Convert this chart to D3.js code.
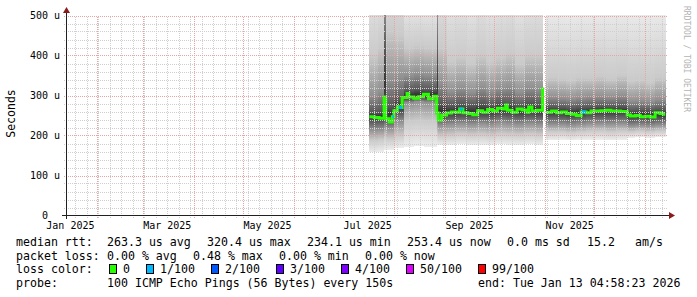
<!DOCTYPE html>
<html><head><meta charset="utf-8">
<script src="https://cdn.jsdelivr.net/npm/d3@7"></script>
<style>
html,body{margin:0;padding:0;background:#fff;}
svg{display:block;}
text{font-family:"DejaVu Sans Mono",monospace;fill:#000;}
</style></head><body>
<svg id="c" width="697" height="297"></svg>
<script>
// ---------- data ----------
const startTime = "2025-01-13 04:58";
const endTime = "2026-01-13 04:58";
const yTickValues = [0, 100, 200, 300, 400, 500];
const yTickLabels = ["0", "100 u", "200 u", "300 u", "400 u", "500 u"];
const xLabelMonths = ["2025-01-01", "2025-03-01", "2025-05-01", "2025-07-01", "2025-09-01", "2025-11-01"];
const xLabels = ["Jan 2025", "Mar 2025", "May 2025", "Jul 2025", "Sep 2025", "Nov 2025"];

// median RTT (microseconds) and loss (pings lost of 100)
const medianDates = ["2025-07-17","2025-07-20","2025-07-23","2025-07-26","2025-07-27","2025-07-29","2025-07-31","2025-08-01","2025-08-03","2025-08-04",
  "2025-08-06","2025-08-09","2025-08-10","2025-08-13","2025-08-16","2025-08-19","2025-08-22","2025-08-25","2025-08-27","2025-08-28",
  "2025-08-30","2025-09-02","2025-09-05","2025-09-08","2025-09-10","2025-09-12","2025-09-15","2025-09-18","2025-09-21","2025-09-24",
  "2025-09-27","2025-09-30","2025-10-03","2025-10-06","2025-10-08","2025-10-09","2025-10-12","2025-10-15","2025-10-18","2025-10-21",
  "2025-10-22","2025-10-24","2025-10-27","2025-10-30 12:00","2025-10-31 00:00","2025-11-01 12:00","2025-11-05","2025-11-08","2025-11-11","2025-11-14",
  "2025-11-17","2025-11-20","2025-11-23","2025-11-26","2025-11-29","2025-12-02","2025-12-05","2025-12-08","2025-12-11","2025-12-14",
  "2025-12-17","2025-12-20","2025-12-21","2025-12-23","2025-12-26","2025-12-29","2026-01-01","2026-01-04","2026-01-07","2026-01-10","2026-01-12"];
const medianUs = [247,245,243,296,242,234,247,262,272,270,
  295,305,296,293,297,303,292,298,256,238,
  251,256,259,258,266,257,255,252,262,258,
  265,261,268,266,276,263,258,266,264,258,
  271,261,263,320,null,258,261,257,259,255,
  253,250,259,257,261,261,262,263,261,261,
  260,260,251,249,250,247,248,246,257,255,253];
const medianLoss = [0,0,0,0,0,0,1,0,0,1,
  0,0,0,0,0,0,0,0,0,0,
  0,0,0,0,1,0,0,0,0,0,
  0,0,0,0,0,0,0,0,0,0,
  0,0,0,0,0,0,0,0,0,0,
  0,0,1,0,0,0,0,0,0,0,
  0,0,0,0,0,0,0,0,0,0,0];

// smoke: ping distribution percentiles per bucket (microseconds)
const smokeDates = ["2025-07-17","2025-07-22","2025-07-26","2025-07-27","2025-08-01","2025-08-07","2025-08-13","2025-08-19","2025-08-27","2025-08-28",
  "2025-09-02","2025-09-08","2025-09-14","2025-09-20","2025-09-26","2025-10-02","2025-10-08","2025-10-14","2025-10-20","2025-10-26",
  "2025-10-30 12:00","2025-10-31","2025-11-01 12:00","2025-11-08","2025-11-14","2025-11-20","2025-11-26","2025-12-02","2025-12-08","2025-12-14",
  "2025-12-21","2025-12-26","2026-01-01","2026-01-07"];
const smokeP0   = [158,160,165,165,170,172,175,172,176,176, 176,178,176,177,176,178,177,176,178,176, 180,null,188,190,188,190,190,190,188,190, 195,196,195,196];
const smokeP10  = [188,190,200,192,200,236,238,236,205,200, 202,205,203,204,202,205,204,203,205,203, 210,null,210,210,208,210,212,212,210,212, 210,212,210,212];
const smokeP25  = [214,215,225,218,235,282,285,283,235,225, 228,230,228,230,228,232,230,228,230,228, 235,null,228,228,226,228,230,230,229,230, 224,225,224,226];
const smokeP40  = [236,236,240,237,258,290,292,292,250,243, 246,248,247,248,248,252,250,248,250,248, 255,null,248,247,245,247,249,250,249,250, 240,241,240,242];
const smokeP60  = [258,260,420,272,288,312,315,314,400,280, 274,278,275,280,276,282,280,274,282,278, 420,null,271,270,268,270,271,273,272,273, 262,263,263,265];
const smokeP75  = [300,310,520,340,345,350,355,352,500,330, 310,318,308,320,310,318,322,308,320,316, 520,null,296,294,292,295,297,298,296,300, 286,287,285,290];
const smokeP90  = [400,420,600,460,450,420,425,420,580,420, 385,395,380,400,385,395,405,380,400,400, 600,null,345,342,338,345,344,348,342,350, 335,338,332,345];
const smokeP100 = [600,610,700,660,640,540,540,540,650,620, 580,590,570,600,575,590,600,570,595,600, 700,null,520,520,518,520,520,522,520,522, 515,516,515,518];

const lossLabels = ["0", "1/100", "2/100", "3/100", "4/100", "50/100", "99/100"];
const lossThresholds = [0, 1, 2, 3, 4, 50, 99];
const lossColors = ["#26ff00", "#00b8ff", "#0059ff", "#5e00ff", "#7e00ff", "#dd00ff", "#ff0000"];

const legendMedian = ["median rtt:", "263.3 us avg", "320.4 us max", "234.1 us min", "253.4 us now", "0.0 ms sd", "15.2", "am/s"];
const legendLoss = ["packet loss:", "0.00 % avg", "0.48 % max", "0.00 % min", "0.00 % now"];
const legendProbe = ["probe:", "100 ICMP Echo Pings (56 Bytes) every 150s", "end: Tue Jan 13 04:58:23 2026"];
const yTitle = "Seconds";
const watermark = "RRDTOOL / TOBI OETIKER";

// ---------- drawing ----------
const p1 = d3.utcParse("%Y-%m-%d %H:%M"), p2 = d3.utcParse("%Y-%m-%d");
const pd = s => p1(s) || p2(s);
const t0 = pd(startTime), t1 = pd(endTime);

const svg = d3.select("#c");
svg.append("rect").attr("width", 697).attr("height", 297).attr("fill", "#fff");

const X0 = 65.8, X1 = 665.3, Y0 = 215.5, Y1 = 15.5;
const x = d3.scaleUtc().domain([t0, t1]).range([X0, X1]);
const y = d3.scaleLinear().domain([0, 500]).range([Y0, Y1]);

const defs = svg.append("defs");
defs.append("clipPath").attr("id", "plot").append("rect")
  .attr("x", X0).attr("y", Y1 - 0.5).attr("width", X1 - X0 + 1).attr("height", Y0 - Y1 + 0.5);

function grad(id, stops) {
  const g = defs.append("linearGradient").attr("id", id)
    .attr("x1", 0).attr("y1", 0).attr("x2", 0).attr("y2", 1);
  stops.forEach(([o, c]) => g.append("stop").attr("offset", o).attr("stop-color", c));
}
const cEdge = "#ececec", c10 = "#cacaca", c25 = "#919191", c40 = "#585858", cMid = "#353535";
grad("g90", [[0, cEdge], [1, c10]]);
grad("g75", [[0, c10], [1, c25]]);
grad("g60", [[0, c25], [1, c40]]);
grad("g50", [[0, c40], [0.5, cMid], [1, c40]]);
grad("g25", [[0, c40], [1, c25]]);
grad("g10", [[0, c25], [1, c10]]);
grad("g0", [[0, c10], [1, cEdge]]);

const plot = svg.append("g").attr("clip-path", "url(#plot)");

// smoke
const bands = [
  [smokeP90, smokeP100, "g90"], [smokeP75, smokeP90, "g75"], [smokeP60, smokeP75, "g60"],
  [smokeP40, smokeP60, "g50"], [smokeP25, smokeP40, "g25"], [smokeP10, smokeP25, "g10"], [smokeP0, smokeP10, "g0"]
];
const sd = smokeDates.map(pd);
const smokeG = plot.append("g").attr("shape-rendering", "crispEdges");
sd.forEach((d, i) => {
  if (smokeP0[i] == null) return;
  const xa = x(d), xb = i + 1 < sd.length ? x(sd[i + 1]) : x(t1) + 1;
  bands.forEach(([lo, hi, g]) => {
    smokeG.append("rect").attr("x", xa).attr("width", xb - xa)
      .attr("y", y(hi[i])).attr("height", Math.max(0.5, y(lo[i]) - y(hi[i])))
      .attr("fill", `url(#${g})`);
  });
});

// grid (drawn over smoke like rrdtool)
const minorC = "#cfcfcf", majorC = "#e9a4a4";
const gridG = svg.append("g").attr("fill", "none").attr("stroke-width", 1).attr("shape-rendering", "crispEdges");
const minorY = d3.range(0, 501, 20).filter(v => v % 100 !== 0);
minorY.forEach(v => gridG.append("line").attr("x1", X0 - 2).attr("x2", X1 + 3)
  .attr("y1", Math.round(y(v)) + 0.5).attr("y2", Math.round(y(v)) + 0.5)
  .attr("stroke", minorC).attr("stroke-dasharray", "1,1"));
const weeks = d3.utcSunday.range(t0, t1);
weeks.forEach(w => gridG.append("line").attr("x1", Math.round(x(w)) + 0.5).attr("x2", Math.round(x(w)) + 0.5)
  .attr("y1", Y0 + 2).attr("y2", Y1)
  .attr("stroke", minorC).attr("stroke-dasharray", "1,1"));
yTickValues.slice(1).forEach(v => gridG.append("line").attr("x1", X0 - 2).attr("x2", X1 + 3)
  .attr("y1", Math.round(y(v)) + 0.5).attr("y2", Math.round(y(v)) + 0.5)
  .attr("stroke", majorC).attr("stroke-dasharray", "1,1"));
d3.utcMonth.range(t0, t1).forEach(m => gridG.append("line").attr("x1", Math.round(x(m)) + 0.5).attr("x2", Math.round(x(m)) + 0.5)
  .attr("y1", Y0 + 2).attr("y2", Y1)
  .attr("stroke", majorC).attr("stroke-dasharray", "1,1"));

// median line
const md = medianDates.map((s, i) => ({ t: pd(s), v: medianUs[i], loss: medianLoss[i] }));
const lastDef = md.filter(d => d.v != null).slice(-1)[0];
const mdLine = md.concat([{ t: t1, v: lastDef.v, loss: lastDef.loss }]);
const lossColor = l => { let c = lossColors[0]; lossThresholds.forEach((th, k) => { if (l >= th) c = lossColors[k]; }); return c; };
const line = d3.line().defined(d => d.v != null).x(d => x(d.t)).y(d => y(d.v)).curve(d3.curveStepAfter);
plot.append("path").datum(mdLine).attr("d", line).attr("fill", "none")
  .attr("stroke", lossColors[0]).attr("stroke-width", 3);
mdLine.forEach((d, i) => {
  if (d.v == null || d.loss <= 0 || i + 1 >= mdLine.length) return;
  plot.append("line").attr("x1", x(d.t)).attr("x2", x(mdLine[i + 1].t))
    .attr("y1", y(d.v)).attr("y2", y(d.v)).attr("stroke", lossColor(d.loss)).attr("stroke-width", 3);
});

// axes
const axisG = svg.append("g").attr("shape-rendering", "crispEdges");
axisG.append("line").attr("x1", 62).attr("x2", 670).attr("y1", 215.5).attr("y2", 215.5).attr("stroke", "#202020");
axisG.append("line").attr("x1", 66.5).attr("x2", 66.5).attr("y1", 219).attr("y2", 11).attr("stroke", "#202020");
svg.append("path").attr("d", "M669,212 L675,215.5 L669,219 Z").attr("fill", "#8b1a1a");
svg.append("path").attr("d", "M63,13 L66.5,7 L70,13 Z").attr("fill", "#8b1a1a");

// y tick labels
yTickValues.forEach((v, i) => {
  const lab = yTickLabels[i] + (v === 0 ? "  " : "");
  svg.append("text").attr("x", 60).attr("y", y(v)).attr("dy", "0.35em")
    .attr("text-anchor", "end").attr("font-size", 10).attr("xml:space", "preserve").text(lab);
});
// x labels (centered mid-month like rrdtool)
xLabelMonths.forEach((m, i) => {
  const t = d3.utcDay.offset(pd(m), 15);
  svg.append("text").attr("x", x(t)).attr("y", 228.5).attr("text-anchor", "middle")
    .attr("font-size", 10).text(xLabels[i]);
});

// titles
svg.append("text").attr("transform", "translate(15,113.5) rotate(-90)").attr("text-anchor", "middle")
  .attr("font-size", 11.5).text(yTitle);
svg.append("text").attr("transform", "translate(684,6) rotate(90)").attr("text-anchor", "start")
  .attr("font-size", 8).style("fill", "#b4b4b4").text(watermark);

// legend
const fs = 11.6;
const row = (items, xs, yy) => items.forEach((s, i) => svg.append("text").attr("x", xs[i]).attr("y", yy)
  .attr("font-size", fs).attr("xml:space", "preserve").text(s));
row(legendMedian, [16, 107, 207, 307, 407, 507, 587, 635], 246);
row(legendLoss, [16, 107, 193, 279, 365], 259.5);
svg.append("text").attr("x", 16).attr("y", 273).attr("font-size", fs).text("loss color:");
const boxX = [109, 146, 211, 276, 341, 406, 478];
const labX = [123, 160, 225, 290, 355, 420, 492];
lossLabels.forEach((l, i) => {
  svg.append("rect").attr("x", boxX[i] + 0.5).attr("y", 264.5).attr("width", 7).attr("height", 9)
    .attr("fill", lossColors[i]).attr("stroke", "#000").attr("stroke-width", 1).attr("shape-rendering", "crispEdges");
  svg.append("text").attr("x", labX[i]).attr("y", 273).attr("font-size", fs).text(l);
});
row(legendProbe, [16, 107, 478], 286.5);
</script>
</body></html>
